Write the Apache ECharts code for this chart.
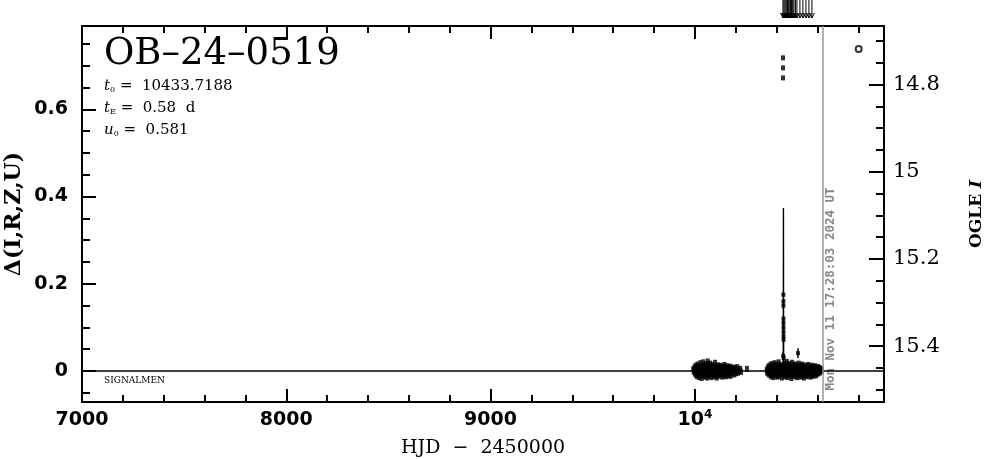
<!DOCTYPE html>
<html><head><meta charset="utf-8">
<script src="https://cdn.jsdelivr.net/npm/echarts@6/dist/echarts.min.js"></script>
<style>html,body{margin:0;padding:0;background:#fff}#c{width:986px;height:459px}</style>
</head><body><div id="c"></div>
<script>
// ---------- data ----------
const eventName = 'OB\u201324\u20130519';
const t0 = 10433.7188;
const tE = 0.58;
const u0 = 0.581;
const nowHJD = 10626.2;
const nowText = 'Mon Nov 11 17:28:03 2024 UT';
const surveyName = 'SIGNALMEN';
const xMin = 7000, xMax = 10926;
const dMin = -0.071, dMax = 0.791;
const magAtZero = 15.457;
// tick definitions [min, max, step]
const xMinorTicks = [7000, 10800, 200];
const xMajorTicks = [7000, 10000, 1000];
const dMinorTicks = [-0.05, 0.75, 0.05];
const dMajorTicks = [0, 0.6, 0.2];
const magMinorTicks = [14.7, 15.5, 0.05];
const magMajorTicks = [14.8, 15.4, 0.2];

// model light curve [HJD, delta]
const modelCurve = [[7000,0],[10431.8,0],[10432.6,0.02],[10433.1,0.09],[10433.5,0.27],[10433.72,0.374],[10433.95,0.27],[10434.35,0.09],[10434.85,0.02],[10435.6,0],[10926,0]];

// season 1 photometry [HJD, delta]
const season1 = [[9992,0.004],[9995,-0.002],[9998,0.008],[10001,-0.006],[10003,0.012],[10005,0.001],[10007,-0.009],[10009,0.006],[10011,-0.012],[10013,0.015],[10015,0.003],[10017,-0.005],[10019,0.010],[10021,-0.014],[10023,0.007],[10025,-0.001],[10027,0.018],[10029,-0.008],[10031,0.004],[10033,-0.016],[10035,0.011],[10037,0.000],[10039,-0.010],[10041,0.020],[10043,0.005],[10045,-0.004],[10047,0.013],[10049,-0.013],[10051,0.008],[10053,-0.002],[10055,0.016],[10057,-0.009],[10059,0.003],[10061,-0.015],[10063,0.022],[10065,0.006],[10067,-0.006],[10069,0.012],[10071,-0.011],[10073,0.002],[10075,0.017],[10077,-0.003],[10079,0.009],[10081,-0.014],[10083,0.005],[10085,0.014],[10087,-0.007],[10089,0.001],[10091,0.011],[10093,-0.012],[10095,0.007],[10097,-0.004],[10099,0.019],[10101,-0.010],[10103,0.004],[10105,0.010],[10107,-0.015],[10109,0.006],[10111,-0.002],[10113,0.013],[10115,-0.008],[10117,0.003],[10119,0.009],[10121,-0.011],[10123,0.005],[10125,-0.005],[10127,0.012],[10129,-0.009],[10131,0.001],[10133,0.008],[10135,-0.013],[10137,0.004],[10139,0.010],[10141,-0.006],[10143,0.002],[10145,0.014],[10147,-0.010],[10149,0.006],[10151,-0.003],[10153,0.009],[10155,-0.012],[10157,0.003],[10159,0.011],[10161,-0.007],[10163,0.000],[10165,0.008],[10167,-0.009],[10169,0.005],[10171,-0.004],[10173,0.010],[10175,-0.011],[10177,0.002],[10179,0.007],[10181,-0.006],[10184,0.004],[10187,-0.002],[10190,0.008],[10193,-0.008],[10196,0.003],[10199,0.006],[10202,-0.005],[10205,0.002],[10208,0.009],[10211,-0.004],[10214,0.004],[10218,0.000],[10222,0.005],[10226,-0.002],[10255,0.005]];

// season 2 photometry [HJD, delta]
const season2 = [[10352,0.002],[10354,-0.004],[10356,0.006],[10358,-0.001],[10360,0.010],[10362,-0.008],[10364,0.004],[10366,0.013],[10368,-0.006],[10370,0.008],[10372,-0.012],[10374,0.002],[10376,0.016],[10378,-0.009],[10380,0.005],[10382,0.011],[10384,-0.014],[10386,0.007],[10388,-0.003],[10390,0.018],[10392,-0.010],[10394,0.004],[10396,0.012],[10398,-0.007],[10400,0.001],[10402,0.015],[10404,-0.013],[10406,0.006],[10408,-0.002],[10410,0.020],[10412,-0.011],[10414,0.008],[10416,0.003],[10418,-0.008],[10420,0.014],[10422,-0.004],[10424,0.010],[10426,-0.015],[10428,0.005],[10430,0.012],[10432,-0.006],[10436,0.009],[10438,-0.012],[10440,0.017],[10442,0.002],[10444,-0.009],[10446,0.011],[10448,-0.003],[10450,0.021],[10452,-0.014],[10454,0.006],[10456,0.013],[10458,-0.007],[10460,0.003],[10462,0.016],[10464,-0.011],[10466,0.008],[10468,-0.002],[10470,0.012],[10472,-0.016],[10474,0.004],[10476,0.019],[10478,-0.008],[10480,0.007],[10482,-0.004],[10484,0.014],[10486,-0.012],[10488,0.002],[10490,0.010],[10492,-0.009],[10494,0.015],[10496,-0.003],[10498,0.006],[10500,-0.014],[10502,0.011],[10504,0.001],[10506,-0.010],[10508,0.017],[10510,-0.005],[10512,0.008],[10514,-0.013],[10516,0.004],[10518,0.012],[10520,-0.007],[10522,0.002],[10524,0.015],[10526,-0.011],[10528,0.006],[10530,-0.003],[10532,0.010],[10534,-0.015],[10536,0.005],[10538,0.013],[10540,-0.008],[10542,0.001],[10544,0.009],[10546,-0.012],[10548,0.004],[10550,0.011],[10552,-0.006],[10554,0.002],[10556,0.014],[10558,-0.010],[10560,0.006],[10562,-0.004],[10564,0.010],[10566,-0.013],[10568,0.003],[10570,0.008],[10572,-0.009],[10574,0.012],[10576,-0.002],[10578,0.005],[10580,-0.011],[10582,0.009],[10584,0.001],[10586,-0.007],[10588,0.011],[10590,-0.004],[10592,0.006],[10594,-0.010],[10596,0.003],[10598,0.008],[10600,-0.006],[10602,0.004],[10604,0.009],[10606,-0.005],[10608,0.002],[10610,0.007],[10612,-0.003],[10614,0.005],[10616,0.001],[10618,0.004],[10620,-0.001],[10622,0.003]];

// event points with errors [HJD, delta, err]
const eventPoints = [[10433.5,0.175,0.006],[10433.6,0.160,0.006],[10433.7,0.150,0.006],[10433.8,0.120,0.006],[10433.9,0.110,0.006],[10434.0,0.100,0.006],[10434.1,0.090,0.006],[10434.2,0.080,0.006],[10434.3,0.072,0.006],[10432.8,0.035,0.008],[10434.6,0.030,0.008],[10505,0.041,0.011]];
const highPoints = [[10431.5,0.718],[10431.5,0.695],[10431.5,0.672]];
const openPoint = [[10802,0.738]];
// off-scale points (arrows above the frame)
const offScale = [10431.2,10436.1,10441.0,10445.9,10450.5,10453.2,10457.0,10460.6,10465.5,10469.0,10472.8,10476.5,10480.2,10485.1,10492.4,10499.8,10514.4,10529.1,10543.8,10558.5,10573.2];

// ---------- layout ----------
const G = {l: 82, r: 884, t: 26, b: 402};
const px = x => G.l + (x - xMin) / (xMax - xMin) * (G.r - G.l);
const py = d => G.t + (dMax - d) / (dMax - dMin) * (G.b - G.t);
const m2d = m => magAtZero - m;

const chart = echarts.init(document.getElementById('c'), null, {renderer: 'canvas'});

const tickLine = {inside: true, lineStyle: {color: '#000', width: 2}};
function dummyX(g) { return {gridIndex: g, type: 'value', show: false, min: 0, max: 1}; }
function dummyY(g) { return {gridIndex: g, type: 'value', show: false, min: 0, max: 1}; }
function tickAxis(g, def, pos, len, label, extra) {
  return Object.assign({
    gridIndex: g, type: 'value', position: pos, min: def[0], max: def[1], interval: def[2],
    axisLine: {show: false, onZero: false}, splitLine: {show: false},
    axisTick: Object.assign({length: len}, tickLine),
    axisLabel: label || {show: false}
  }, extra || {});
}

const hiddenNamed = {axisLine: {show: false, onZero: false}, axisTick: {show: false}, axisLabel: {show: false}, splitLine: {show: false}};
const gb = {containLabel: false, outerBoundsMode: 'none'};

const grids = [
  Object.assign({left: G.l, top: G.t, width: G.r - G.l, height: G.b - G.t, show: true, borderColor: '#000', borderWidth: 2, backgroundColor: 'transparent'}, gb),
  Object.assign({left: G.l, top: G.t, width: px(xMinorTicks[1]) - G.l, height: G.b - G.t}, gb),
  Object.assign({left: G.l, top: G.t, width: px(xMajorTicks[1]) - G.l, height: G.b - G.t}, gb),
  Object.assign({left: G.l, width: G.r - G.l, top: py(dMinorTicks[1]), height: py(dMinorTicks[0]) - py(dMinorTicks[1])}, gb),
  Object.assign({left: G.l, width: G.r - G.l, top: py(dMajorTicks[1]), height: py(dMajorTicks[0]) - py(dMajorTicks[1])}, gb),
  Object.assign({left: G.l, width: G.r - G.l, top: py(m2d(magMinorTicks[0])), height: py(m2d(magMinorTicks[1])) - py(m2d(magMinorTicks[0]))}, gb),
  Object.assign({left: G.l, width: G.r - G.l, top: py(m2d(magMajorTicks[0])), height: py(m2d(magMajorTicks[1])) - py(m2d(magMajorTicks[0]))}, gb)
];

const xAxes = [
  Object.assign({gridIndex: 0, type: 'value', min: xMin, max: xMax, name: 'HJD  \u2212  2450000', nameLocation: 'middle', nameGap: 37,
    nameTextStyle: {fontFamily: 'DejaVu Serif', fontSize: 19, color: '#000'}}, hiddenNamed),
  tickAxis(1, xMinorTicks, 'bottom', 7),
  tickAxis(1, xMinorTicks, 'top', 7),
  tickAxis(2, xMajorTicks, 'bottom', 13, {show: true, margin: 7,
    formatter: v => v === 10000 ? '{a|10}{b|4}' : '{a|' + v + '}',
    rich: {a: {fontFamily: 'DejaVu Sans', fontWeight: 'bold', fontSize: 19, color: '#000', lineHeight: 22},
           b: {fontFamily: 'DejaVu Sans', fontWeight: 'bold', fontSize: 12, color: '#000', verticalAlign: 'top', lineHeight: 12}}}),
  tickAxis(2, xMajorTicks, 'top', 13),
  dummyX(3), dummyX(4), dummyX(5), dummyX(6)
];

const yAxes = [
  Object.assign({gridIndex: 0, type: 'value', position: 'left', min: dMin, max: dMax, name: '\u0394(I,R,Z,U)', nameLocation: 'middle', nameGap: 57,
    nameTextStyle: {fontFamily: 'DejaVu Serif', fontWeight: 'bold', fontSize: 22, color: '#000'}}, hiddenNamed),
  Object.assign({gridIndex: 0, type: 'value', position: 'right', min: 0, max: 1, name: '{a|OGLE }{b|I}', nameLocation: 'middle', nameGap: 84,
    nameTextStyle: {rich: {a: {fontFamily: 'DejaVu Serif', fontWeight: 'bold', fontSize: 17, color: '#000'},
                           b: {fontFamily: 'DejaVu Serif', fontWeight: 'bold', fontStyle: 'italic', fontSize: 17, color: '#000'}}}}, hiddenNamed),
  dummyY(1), dummyY(2),
  tickAxis(3, dMinorTicks, 'left', 8),
  tickAxis(4, dMajorTicks, 'left', 14, {show: true, margin: 14, fontFamily: 'DejaVu Sans', fontWeight: 'bold', fontSize: 19, color: '#000'}),
  tickAxis(5, magMinorTicks, 'right', 8, null, {inverse: true}),
  tickAxis(6, magMajorTicks, 'right', 15, {show: true, margin: 9, fontFamily: 'DejaVu Serif', fontSize: 21, color: '#000'}, {inverse: true})
];

const blk = {color: '#000'};
const series = [
  {type: 'line', xAxisIndex: 0, yAxisIndex: 0, data: modelCurve, symbol: 'none', lineStyle: {color: '#000', width: 1.4}, z: 3,
   markLine: {silent: true, symbol: ['none', 'none'], label: {show: false}, lineStyle: {color: '#999', width: 1.5, type: 'solid'}, data: [{xAxis: nowHJD}]}},
  {type: 'scatter', xAxisIndex: 0, yAxisIndex: 0, data: season1, symbol: 'rect', symbolSize: [4, 6], itemStyle: blk, z: 4},
  {type: 'scatter', xAxisIndex: 0, yAxisIndex: 0, data: season2, symbol: 'rect', symbolSize: [4, 6], itemStyle: blk, z: 4},
  {type: 'scatter', xAxisIndex: 0, yAxisIndex: 0, data: eventPoints.map(p => [p[0], p[1]]), symbol: 'rect', symbolSize: [4, 4], itemStyle: blk, z: 4},
  {type: 'custom', xAxisIndex: 0, yAxisIndex: 0, data: eventPoints, z: 4,
   renderItem: function (params, api) {
     const x = api.value(0), y = api.value(1), e = api.value(2);
     const a = api.coord([x, y - e]), b = api.coord([x, y + e]);
     return {type: 'line', shape: {x1: a[0], y1: a[1], x2: b[0], y2: b[1]}, style: {stroke: '#000', lineWidth: 1.5}};
   }},
  {type: 'scatter', xAxisIndex: 0, yAxisIndex: 0, data: highPoints, symbol: 'rect', symbolSize: [4, 5], itemStyle: blk, z: 4},
  {type: 'scatter', xAxisIndex: 0, yAxisIndex: 0, data: openPoint, symbol: 'circle', symbolSize: 6, itemStyle: {color: '#fff', borderColor: '#000', borderWidth: 2}, z: 4},
  {type: 'custom', xAxisIndex: 0, yAxisIndex: 0, data: offScale.map(v => [v, dMax]), z: 4, clip: false,
   renderItem: function (params, api) {
     const p = api.coord([api.value(0), api.value(1)]);
     const tipY = p[1] - 8;
     return {type: 'group', children: [
       {type: 'line', shape: {x1: p[0], y1: 0, x2: p[0], y2: tipY}, style: {stroke: '#000', lineWidth: 1}},
       {type: 'polyline', shape: {points: [[p[0] - 2.5, tipY - 5], [p[0], tipY], [p[0] + 2.5, tipY - 5]]}, style: {stroke: '#000', lineWidth: 1, fill: null}}
     ]};
   }}
];

const serif = 'DejaVu Serif';
const paramRich = {
  i: {fontFamily: serif, fontStyle: 'italic', fontSize: 15, color: '#000'},
  n: {fontFamily: serif, fontSize: 15, color: '#000'},
  s: {fontFamily: serif, fontSize: 8, color: '#000', verticalAlign: 'bottom', padding: [8, 0, 0, 0]}
};
const graphic = [
  {type: 'text', x: 104, y: 36, style: {text: eventName, fontFamily: serif, fontSize: 37, fill: '#000', align: 'left', verticalAlign: 'top'}},
  {type: 'text', x: 104, y: 78, style: {text: '{i|t}{s|0}{n| =  ' + t0.toFixed(4) + '}', rich: paramRich, align: 'left', verticalAlign: 'top'}},
  {type: 'text', x: 104, y: 100, style: {text: '{i|t}{s|E}{n| =  ' + tE + '  d}', rich: paramRich, align: 'left', verticalAlign: 'top'}},
  {type: 'text', x: 104, y: 122, style: {text: '{i|u}{s|0}{n| =  ' + u0 + '}', rich: paramRich, align: 'left', verticalAlign: 'top'}},
  {type: 'text', x: 104, y: 376, style: {text: surveyName, fontFamily: serif, fontSize: 9, fill: '#000', align: 'left', verticalAlign: 'top'}},
  {type: 'text', x: px(nowHJD) + 8, y: 289, rotation: Math.PI / 2,
   style: {text: nowText, fontFamily: 'DejaVu Sans Mono', fontWeight: 'bold', fontSize: 12.5, fill: '#888', align: 'center', verticalAlign: 'middle'}}
];

chart.setOption({
  animation: false,
  backgroundColor: '#fff',
  grid: grids,
  xAxis: xAxes,
  yAxis: yAxes,
  series: series,
  graphic: graphic
});
</script></body></html>
